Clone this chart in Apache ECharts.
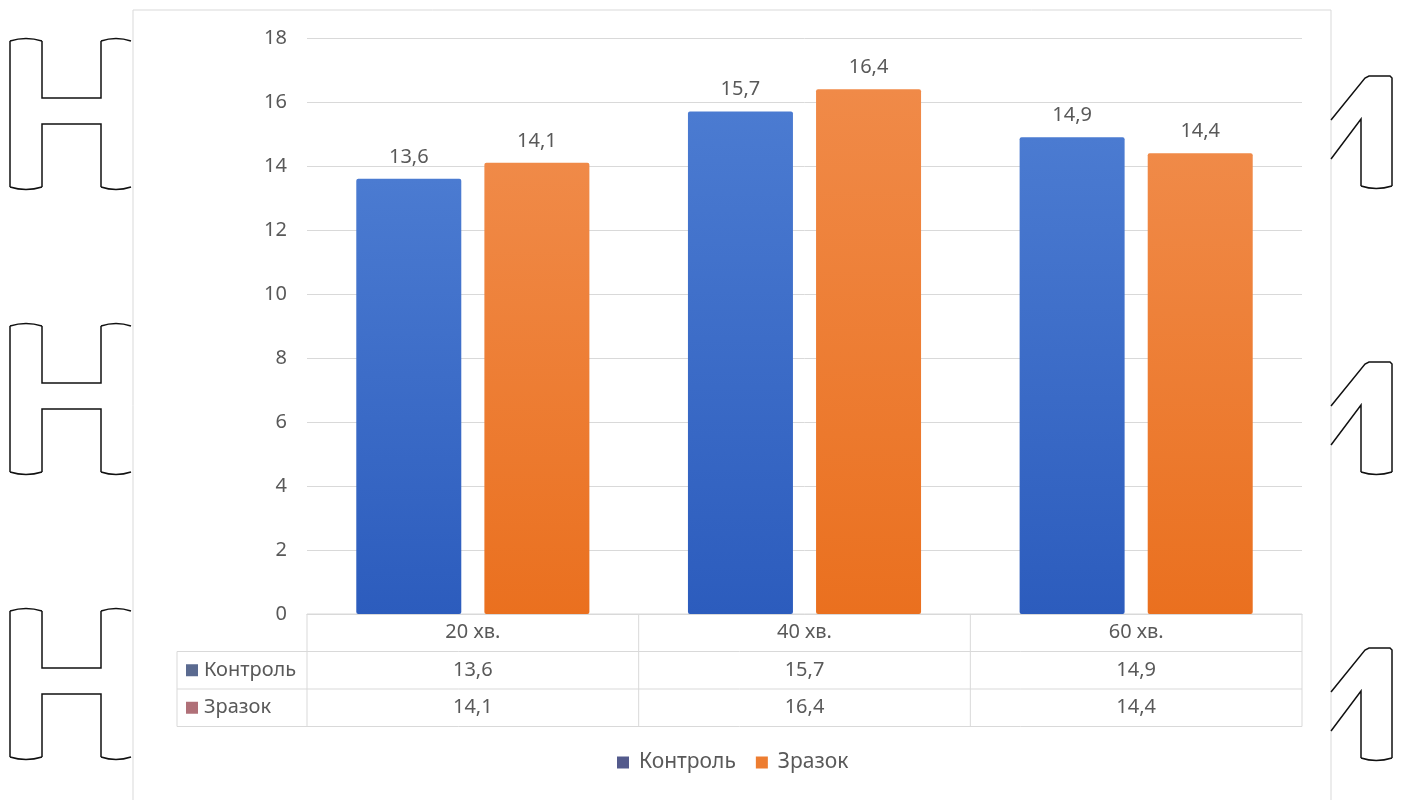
<!DOCTYPE html>
<html>
<head>
<meta charset="utf-8">
<script src="https://cdn.jsdelivr.net/npm/echarts@6/dist/echarts.min.js"></script>
<style>
html,body{margin:0;padding:0;background:#fff;}
#c{width:1405px;height:800px;}
</style>
</head>
<body>
<div id="c"></div>
<script>
const categories = ['20 хв.', '40 хв.', '60 хв.'];
const seriesNames = ['Контроль', 'Зразок'];
const kontrol = [13.6, 15.7, 14.9];
const zrazok = [14.1, 16.4, 14.4];
const yTicks = [0, 2, 4, 6, 8, 10, 12, 14, 16, 18];

const FONT = '"Noto Sans", "Open Sans", sans-serif';
const TXT = '#595959';
const LINE = '#d9d9d9';
const fmt = v => String(v).replace('.', ',');

const G = {left: 307, right: 1302, top: 38, bottom: 614};
const rowH = 37.5;

const chart = echarts.init(document.getElementById('c'));

// decorative outline shapes
const deco = [];
const dStyle = {fill: null, stroke: '#111', lineWidth: 1.5};
const pl = pts => ({type: 'polyline', z: 0, shape: {points: pts}, style: dStyle});
const bz = (x1, y1, x2, y2, cx, cy) => ({type: 'bezierCurve', z: 0,
  shape: {x1, y1, x2, y2, cpx1: cx, cpy1: cy}, style: dStyle});
[41, 326, 611].forEach(t => {
  const b = t + 146, c1 = t + 57, c2 = t + 83;
  deco.push(pl([[42, t], [42, c1], [101, c1], [101, t]]));
  deco.push(pl([[101, b], [101, c2], [42, c2], [42, b]]));
  deco.push(pl([[10, t], [10, b]]));
  deco.push(bz(10, t, 42, t, 26, t - 5));
  deco.push(bz(101, t, 131, t, 116, t - 5));
  deco.push(bz(10, b, 42, b, 26, b + 5));
  deco.push(bz(101, b, 131, b, 116, b + 5));
});
[76, 362, 648].forEach(t => {
  const b = t + 110;
  deco.push(pl([[1331, t + 44], [1365, t + 2], [1369, t], [1390, t], [1392, t + 2], [1392, b]]));
  deco.push(bz(1392, b, 1361, b, 1376, b + 5));
  deco.push(pl([[1361, b], [1361, t + 43], [1331, t + 83]]));
});

// chart frame
const frame = {type: 'rect', z: -1, shape: {x: 133, y: 10, width: 1198, height: 800},
  style: {fill: null, stroke: LINE, lineWidth: 1}};

// data table lines
const tbl = [];
const catW = (G.right - G.left) / categories.length;
const rows = [G.bottom, G.bottom + rowH, G.bottom + 2 * rowH, G.bottom + 3 * rowH];
rows.forEach((y, i) => {
  tbl.push({type: 'line', z: 2, shape: {x1: i === 0 ? G.left : 177, y1: y, x2: G.right, y2: y},
    style: {stroke: LINE, lineWidth: 1}});
});
for (let i = 0; i <= categories.length; i++) {
  const x = G.left + i * catW;
  tbl.push({type: 'line', z: 2, shape: {x1: x, y1: rows[0], x2: x, y2: rows[3]},
    style: {stroke: LINE, lineWidth: 1}});
}
tbl.push({type: 'line', z: 2, shape: {x1: 177, y1: rows[1], x2: 177, y2: rows[3]},
  style: {stroke: LINE, lineWidth: 1}});
const keyColors = ['#5a6a90', '#b07078'];
seriesNames.forEach((n, i) => {
  const cy = rows[1] + rowH * i + rowH / 2;
  tbl.push({type: 'rect', z: 3, shape: {x: 186, y: cy - 6, width: 12, height: 12},
    style: {fill: keyColors[i]}});
  tbl.push({type: 'text', z: 3, x: 204, y: cy, style: {text: n, fill: TXT,
    font: `20px ${FONT}`, verticalAlign: 'middle', align: 'left'}});
});

const grad = (a, b) => new echarts.graphic.LinearGradient(0, 0, 0, 1,
  [{offset: 0, color: a}, {offset: 1, color: b}]);

chart.setOption({
  animation: false,
  backgroundColor: '#fff',
  textStyle: {fontFamily: FONT},
  grid: {left: G.left, right: 1405 - G.right, top: G.top, bottom: 800 - G.bottom, containLabel: false},
  legend: {
    bottom: 22, left: 612, itemWidth: 12, itemHeight: 12, itemGap: 20,
    icon: 'rect',
    textStyle: {color: TXT, fontSize: 21, fontFamily: FONT, padding: [0, 0, 0, 5]},
    data: [
      {name: seriesNames[0], itemStyle: {color: '#535a8c'}},
      {name: seriesNames[1], itemStyle: {color: '#ed7d31'}}
    ]
  },
  xAxis: {
    type: 'category', data: categories,
    axisLine: {show: true, lineStyle: {color: LINE}},
    axisTick: {show: false},
    axisLabel: {
      margin: 0, interval: 0,
      formatter: (v, i) => `{r|${v}}\n{r|${fmt(kontrol[i])}}\n{r|${fmt(zrazok[i])}}`,
      rich: {r: {fontSize: 20, lineHeight: rowH, color: TXT, fontFamily: FONT}}
    }
  },
  yAxis: {
    type: 'value', min: yTicks[0], max: yTicks[yTicks.length - 1], interval: 2,
    axisLine: {show: false}, axisTick: {show: false},
    axisLabel: {color: TXT, fontSize: 20, margin: 20, fontFamily: FONT},
    splitLine: {lineStyle: {color: LINE, width: 1}}
  },
  series: [
    {name: seriesNames[0], type: 'bar', data: kontrol, barWidth: 105, barGap: '22%',
      itemStyle: {color: grad('#4b7bd1', '#2c5cbd'), borderRadius: 2},
      label: {show: true, position: 'top', distance: 12, color: TXT, fontSize: 20,
        fontFamily: FONT, formatter: p => fmt(p.value)}},
    {name: seriesNames[1], type: 'bar', data: zrazok, barWidth: 105,
      itemStyle: {color: grad('#f08a48', '#ea701f'), borderRadius: 2},
      label: {show: true, position: 'top', distance: 12, color: TXT, fontSize: 20,
        fontFamily: FONT, formatter: p => fmt(p.value)}}
  ],
  graphic: [...deco, frame, ...tbl]
});
</script>
</body>
</html>
